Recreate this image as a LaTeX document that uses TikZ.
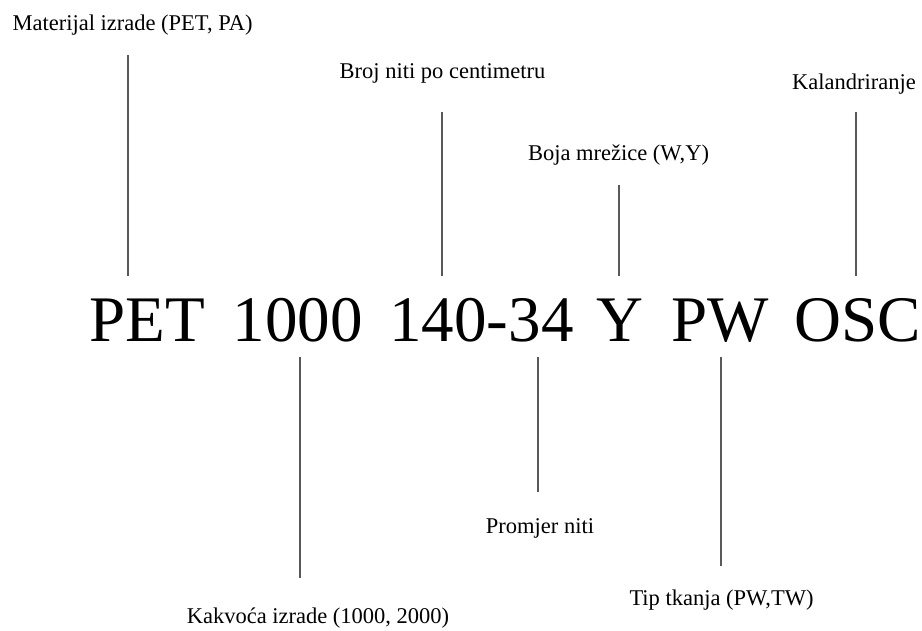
\documentclass[tikz,border=0pt]{standalone}
\usepackage{fontspec}
\setmainfont{Liberation Serif}
\newfontfamily\timesface{Liberation Serif}
\usetikzlibrary{positioning}
\tikzset{
  lab/.style={font=\timesface\fontsize{22.5}{27}\selectfont,inner sep=0pt,anchor=base},
  code/.style={font=\timesface\fontsize{65}{70}\selectfont,inner sep=0pt,anchor=base},
  tick/.style={line width=1.1pt,black!65}
}

\begin{document}
\begin{tikzpicture}[x=1pt,y=-1pt]
  \useasboundingbox (0,0) rectangle (922,630);

  % code
  \node[code] (pet) at (147,341) {PET};
  \node[code] (kol) at (297.5,341) {1000};
  \node[code] (gus) at (481.5,341) {140-34};
  \node[code] (boj) at (620,341) {Y};
  \node[code] (tka) at (720,341) {PW};
  \node[code] (osc) at (858,341) {OSC};

  % labels above
  \node[lab] (lmat) at (132.5,30) {Materijal izrade (PET, PA)};
  \node[lab] (lbroj) at (442.5,78) {Broj niti po centimetru};
  \node[lab] (lboja) at (618.5,160) {Boja mrežice (W,Y)};
  \node[lab] (lkal) at (854,89) {Kalandriranje};

  % labels below
  \node[lab] (lkak) at (318,623) {Kakvoća izrade (1000, 2000)};
  \node[lab] (lprom) at (540,533) {Promjer niti};
  \node[lab] (ltip) at (721.5,605) {Tip tkanja (PW,TW)};

  \coordinate (mat1) at (128,55);   \coordinate (mat2) at (128,276);
  \coordinate (broj1) at (442,112); \coordinate (broj2) at (442,276);
  \coordinate (boja1) at (619,185); \coordinate (boja2) at (619,276);
  \coordinate (kal1) at (856,112);  \coordinate (kal2) at (856,276);
  \coordinate (kak1) at (300,357);  \coordinate (kak2) at (300,578);
  \coordinate (prom1) at (538,357); \coordinate (prom2) at (538,492);
  \coordinate (tip1) at (721,357);  \coordinate (tip2) at (721,566);

  \draw[tick] (mat1)--(mat2);
  \draw[tick] (broj1)--(broj2);
  \draw[tick] (boja1)--(boja2);
  \draw[tick] (kal1)--(kal2);
  \draw[tick] (kak1)--(kak2);
  \draw[tick] (prom1)--(prom2);
  \draw[tick] (tip1)--(tip2);
\end{tikzpicture}
\end{document}
